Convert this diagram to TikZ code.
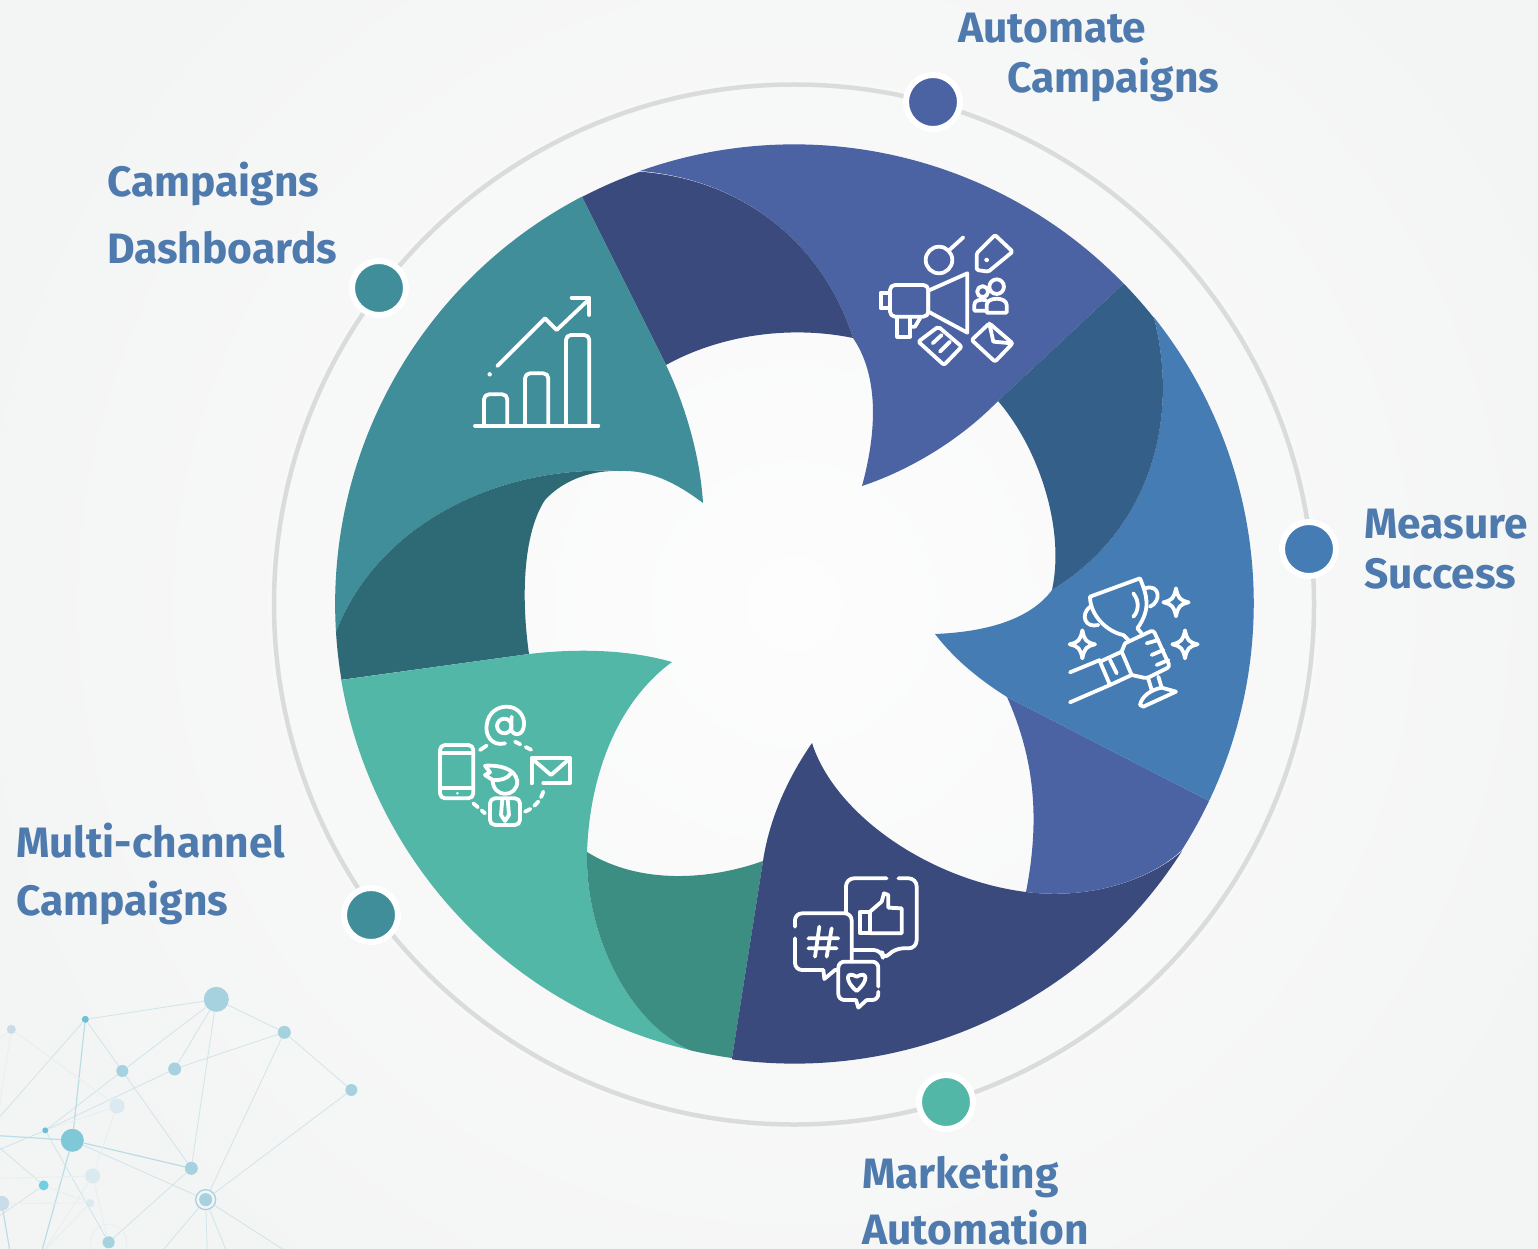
\documentclass[tikz,border=0pt]{standalone}
\usepackage{fontspec}
\setmainfont{Fira Sans}
\usetikzlibrary{calc}
\definecolor{cviolet}{HTML}{4B62A3}
\definecolor{cnavy}{HTML}{3A4A7C}
\definecolor{cblue}{HTML}{447CB3}
\definecolor{cdblue}{HTML}{335F89}
\definecolor{cteal}{HTML}{408E99}
\definecolor{cdteal}{HTML}{2E6A75}
\definecolor{cgreen}{HTML}{53B7A7}
\definecolor{cdgreen}{HTML}{3D8E82}
\definecolor{ctext}{HTML}{4E7AAD}
\definecolor{cring}{HTML}{DADBDB}
\definecolor{cbg}{HTML}{F3F4F4}
\definecolor{ccentre}{HTML}{FDFDFD}
\definecolor{cnetA}{HTML}{A5D2DE}
\definecolor{cnetB}{HTML}{6CC0D5}
\definecolor{cnetC}{HTML}{C9DBE6}
\definecolor{cnetD}{HTML}{DAEAF0}
\definecolor{cnetE}{HTML}{7FC8D7}
\definecolor{cnetF}{HTML}{70CFE0}
\definecolor{clineA}{HTML}{CFE5EB}
\definecolor{clineB}{HTML}{E6EFF2}
\definecolor{clineC}{HTML}{BBDDE6}
\tikzset{
  lab/.style={anchor=base west,inner sep=0pt,text=ctext,font=\fontsize{42.5}{42.5}\selectfont\bfseries},
  halo/.style={circle,fill=#1,draw=white,line width=6pt,minimum size=54pt,inner sep=0pt,outer sep=0pt},
  ico/.style={draw=white,line width=3.8pt,line join=round,line cap=round},
  netdot/.style={circle,inner sep=0pt,fill=#1},
  neta/.style={draw=clineA,line width=.8pt},
  netb/.style={draw=clineB,line width=.8pt},
  netc/.style={draw=clineC,line width=1.2pt},
}
\begin{document}
\begin{tikzpicture}[x=1pt,y=-1pt]
\useasboundingbox (0,0) rectangle (1538,1249);
\begin{scope}
\clip (0,0) rectangle (1538,1249);
\fill[cbg] (0,0) rectangle (1538,1249);
\shade[inner color=ccentre,outer color=cbg] (794,604) circle[radius=860];

% network
\begin{scope}[shift={(0,970)},x=.3333pt,y=-.3333pt]
\node[netdot=cnetA,minimum size=25pt] (na) at (649,88) {};
\node[netdot=cnetB,minimum size=7pt] (nb) at (256,148) {};
\node[netdot=cnetC,minimum size=9pt] (nc) at (34,178) {};
\node[netdot=cnetA,minimum size=13pt] (nd) at (853,187) {};
\node[netdot=cnetA,minimum size=12pt] (ne) at (367,303) {};
\node[netdot=cnetA,minimum size=13pt] (nf) at (524,297) {};
\node[netdot=cnetA,minimum size=12pt] (ng) at (1054,360) {};
\node[netdot=cnetD,minimum size=15pt] (nh) at (351,408) {};
\node[netdot=cnetB,minimum size=6pt] (ni) at (136,481) {};
\node[netdot=cnetE,minimum size=23pt] (nj) at (217,511) {};
\node[netdot=cnetA,minimum size=13pt] (nk) at (574,595) {};
\node[netdot=cnetD,minimum size=15pt] (nl) at (278,618) {};
\node[netdot=cnetF,minimum size=10pt] (nm) at (131,646) {};
\node[circle,inner sep=0pt,draw=cnetA,line width=1.3pt,minimum size=20pt] (nn) at (617,689) {};
\node[netdot=cnetA,minimum size=13pt] (nnc) at (617,689) {};
\node[netdot=cnetD,minimum size=8pt] (no) at (271,699) {};
\node[netdot=cnetC,minimum size=15pt] (np) at (5,700) {};
\node[circle,inner sep=0pt,draw=clineB,line width=.6pt,minimum size=36pt] (nqr) at (326,817) {};
\node[netdot=cnetA,minimum size=12pt] (nq) at (326,817) {};
\coordinate (o1) at (-5,445);
\coordinate (o2) at (-5,430);
\coordinate (o3) at (-5,210);
\coordinate (o4) at (-5,497);
\coordinate (o5) at (-5,540);
\coordinate (o6) at (-5,530);
\coordinate (o7) at (-5,740);
\coordinate (o8) at (-5,625);
\coordinate (o9) at (125,845);
\coordinate (o10) at (485,845);
\coordinate (o11) at (622,845);
\coordinate (o12) at (680,845);
\coordinate (o13) at (860,845);
\coordinate (o14) at (30,845);
\coordinate (o15) at (130,845);
\draw[neta] (na)--(nb) (na)--(ne) (na)--(nf) (na)--(nk) (na)--(nd);
\draw[neta] (nb)--(ne) (nb)--(o1) (nd)--(nf) (nd)--(nn) (nd)--(ng) (ng)--(nn);
\draw[neta] (ne)--(ni) (ne)--(nk) (nf)--(ni) (ni)--(nq) (ni)--(o5);
\draw[neta] (nj)--(nn) (nk)--(nq) (nn)--(o10) (nn)--(o11) (nn)--(o12) (nn)--(o13);
\draw[neta] (nm)--(o6) (nm)--(o7);
\draw[netc] (nb)--(nj) (nj)--(o4) (nj)--(nk) (np)--(o14) (nj)--(o9);
\draw[netb] (nc)--(nh) (nc)--(o2) (nc)--(o3) (nh)--(ni) (nh)--(nl) (nl)--(o8);
\draw[netb] (nl)--(o15) (nm)--(no) (np)--(no) (no)--(o15) (nl)--(nq);
\end{scope}

% ring
\draw[cring,line width=4.5pt] (794,604.5) circle[radius=520];

% petals
\fill[cviolet] (640,171) arc[start angle=-109.6,end angle=-44.2,radius=459.5] -- (998,401)
  .. controls (960,440) and (910,470) .. (862,486)
  .. controls (880,420) and (875,370) .. (853,338)
  .. controls (825,250) and (750,180) .. (640,171) -- cycle;
\fill[cnavy] (582,197) arc[start angle=-117.5,end angle=-109.6,radius=459.5]
  .. controls (750,180) and (825,250) .. (853,338)
  .. controls (790,325) and (720,335) .. (666,365) -- cycle;
\fill[cteal] (582,197) -- (666,365)
  .. controls (685,405) and (700,455) .. (703,503)
  .. controls (675,482) and (650,470) .. (620,471)
  .. controls (490,465) and (375,530) .. (336,632)
  arc[start angle=176.5,end angle=242.5,radius=459.5] -- cycle;
\fill[cdteal] (620,471) .. controls (490,465) and (375,530) .. (336,632)
  arc[start angle=176.5,end angle=170.5,radius=459.5] -- (529,654)
  .. controls (520,590) and (525,530) .. (545,500)
  .. controls (565,478) and (595,470) .. (620,471) -- cycle;
\fill[cgreen] (341,680) -- (529,654)
  .. controls (580,648) and (630,650) .. (672,662)
  .. controls (620,700) and (590,770) .. (587,852)
  .. controls (585,930) and (625,1020) .. (690,1050)
  arc[start angle=103.1,end angle=170.5,radius=459.5] -- cycle;
\fill[cdgreen] (587,852) .. controls (640,885) and (710,880) .. (763,861) -- (732,1058)
  arc[start angle=97.8,end angle=103.1,radius=459.5]
  .. controls (625,1020) and (585,930) .. (587,852) -- cycle;
\fill[cnavy] (732,1058) -- (763,861)
  .. controls (770,815) and (790,775) .. (812,743)
  .. controls (835,815) and (930,880) .. (1026,892)
  .. controls (1090,900) and (1150,880) .. (1182,851)
  arc[start angle=32.5,end angle=97.8,radius=459.5] -- cycle;
\fill[cviolet] (1007,697) -- (1209,801)
  arc[start angle=25.5,end angle=32.5,radius=459.5]
  .. controls (1150,880) and (1090,900) .. (1026,892)
  .. controls (1040,820) and (1035,760) .. (1007,697) -- cycle;
\fill[cblue] (1007,697) -- (1209,801)
  arc[start angle=25.5,end angle=-38.5,radius=459.5]
  .. controls (1180,420) and (1150,530) .. (1052,590)
  .. controls (1030,620) and (985,632) .. (935,634)
  .. controls (955,660) and (980,680) .. (1007,697) -- cycle;
\fill[cdblue] (1122,285) -- (998,401)
  .. controls (1040,450) and (1065,530) .. (1052,590)
  .. controls (1150,530) and (1180,420) .. (1154,318)
  arc[start angle=-38.5,end angle=-44.2,radius=459.5] -- cycle;

% marker dots
\node[halo=cviolet] (d1) at (933,102) {};
\node[halo=cblue] (d2) at (1309,549) {};
\node[halo=cgreen] (d3) at (946,1102) {};
\node[halo=cteal] (d4) at (371,915) {};
\node[halo=cteal] (d5) at (379,288) {};

% labels
\node[lab] (t1a) at (958,43) {Automate};
\node[lab] (t1b) at (1007,93) {Campaigns};
\node[lab] (t2a) at (1364,538) {Measure};
\node[lab] (t2b) at (1364,588) {Success};
\node[lab] (t3a) at (862,1188) {Marketing};
\node[lab] (t3b) at (862,1244) {Automation};
\node[lab] (t4a) at (16,857) {Multi-channel};
\node[lab] (t4b) at (16,915) {Campaigns};
\node[lab] (t5a) at (107,197) {Campaigns};
\node[lab] (t5b) at (107,263) {Dashboards};

% icon 1
\begin{scope}[shift={(860,220)},x=.3333pt,y=-.3333pt,ico]
\draw (237,120) circle[radius=13.3pt];
\draw (268,90)--(310,52);
\draw[rounded corners=1.5pt] (405,45)--(458,95)--(385,155)--(350,150)--(350,100)--cycle;
\draw[line width=2pt] (380,120) circle[radius=1.5pt];
\draw (205,212)--(322,160)--(322,338)--(205,275)--cycle;
\draw[rounded corners=5pt] (205,195)--(90,195)--(90,290)--(205,290)--cycle;
\draw (90,218)--(62,218)--(62,265)--(90,265);
\draw (112,290)--(112,350)--(150,350)--(150,295);
\draw (150,320)--(165,320)--(180,295);
\draw (410,200) circle[radius=7.3pt];
\draw (368,215) circle[radius=5.5pt];
\draw (380,278)--(440,278)--(440,255) .. controls (440,230) and (380,230) .. (380,255)--(380,278);
\draw (380,272)--(343,272)--(343,255) .. controls (343,240) and (360,238) .. (378,240);
\draw[rounded corners=2pt] (235,320)--(305,380)--(252,435)--(175,365)--cycle;
\draw (218,370)--(245,345) (240,395)--(270,365);
\draw[rounded corners=2pt] (388,310)--(458,370)--(405,425)--(335,360)--cycle;
\draw (388,310)--(400,365)--(455,370);
\end{scope}

% icon 2
\begin{scope}[shift={(1050,565)},x=.3333pt,y=-.3333pt,ico]
\draw (120,95)--(270,40) .. controls (290,90) and (305,130) .. (262,190);
\draw (120,95) .. controls (120,150) and (170,200) .. (220,210);
\draw (120,125) .. controls (90,150) and (105,190) .. (145,180);
\draw (285,70) .. controls (330,55) and (335,110) .. (300,125);
\draw (250,85) .. controls (270,110) and (265,140) .. (250,155);
\draw (220,210)--(235,225) (262,190)--(275,205);
\draw[rounded corners=3pt] (225,235)--(310,195)--(360,305)--(290,340)--(245,330);
\draw[rounded corners=3pt] (225,235)--(215,260);
\draw (290,235)--(325,225) (305,270)--(340,255) (320,300)--(355,285);
\draw (150,290)--(215,260)--(245,330)--(180,360)--cycle;
\draw (180,285)--(200,325);
\draw (60,322)--(150,285) (60,412)--(180,360);
\draw (295,342)--(305,375) (325,335)--(335,368);
\draw (270,420) .. controls (275,395) and (300,375) .. (335,368)--(378,380)--(280,425)--cycle;
\foreach \sx/\sy in {378/112,97/238,405/238}{
  \draw (\sx,\sy-42) .. controls (\sx+6,\sy-12) and (\sx+12,\sy-6) .. (\sx+38,\sy)
    .. controls (\sx+12,\sy+6) and (\sx+6,\sy+12) .. (\sx,\sy+42)
    .. controls (\sx-6,\sy+12) and (\sx-12,\sy+6) .. (\sx-38,\sy)
    .. controls (\sx-12,\sy-6) and (\sx-6,\sy-12) .. (\sx,\sy-42) -- cycle;
}
\end{scope}

% icon 3
\begin{scope}[shift={(780,865)},x=.3333pt,y=-.3333pt,ico]
\draw[rounded corners=8pt] (198,140)--(198,40)--(320,40);
\draw[rounded corners=8pt] (355,40)--(410,40)--(410,250)--(345,250)--(310,285)--(305,255)--(220,255);
\draw (240,140)--(270,140)--(270,205)--(240,205)--cycle;
\draw (270,140)--(305,110)--(312,85)--(325,90)--(325,128)--(365,130)--(365,205)--(270,205);
\draw[rounded corners=7pt] (45,185)--(45,145)--(215,145)--(215,290);
\draw[rounded corners=7pt] (45,220)--(45,315)--(130,315);
\draw (130,315)--(133,342)--(165,315)--(175,315);
\draw (118,185)--(105,275) (155,190)--(140,275) (85,220)--(175,220) (85,250)--(170,250);
\draw[rounded corners=6pt] (295,365)--(295,290)--(175,290)--(175,405)--(228,405);
\draw (228,405)--(235,428)--(260,405);
\draw[rounded corners=6pt] (260,405)--(295,405)--(295,380);
\draw (230,378) .. controls (195,350) and (195,315) .. (230,335) .. controls (265,315) and (265,350) .. (230,378) -- cycle;
\end{scope}

% icon 4
\begin{scope}[shift={(425,695)},x=.3333pt,y=-.3333pt,ico]
\draw (240,145) .. controls (200,155) and (180,120) .. (185,90) .. controls (190,50) and (220,35) .. (245,35) .. controls (280,35) and (300,65) .. (297,90) .. controls (295,125) and (262,125) .. (258,100);
\draw (238,93) circle[radius=7.3pt];
\draw (260,65)--(258,100);
\draw[rounded corners=5pt] (45,150)--(145,150)--(145,310)--(45,310)--cycle;
\draw (45,175)--(145,175) (45,280)--(145,280);
\fill[white] (97,295) circle[radius=1.5pt];
\draw[dash pattern=on 8pt off 5pt] (165,165)--(195,145);
\draw[dash pattern=on 6pt off 6pt] (270,140)--(330,170);
\draw[dash pattern=on 6pt off 5pt] (355,290) .. controls (345,320) and (325,340) .. (300,350);
\draw[dash pattern=on 6pt off 5pt] (145,325)--(180,355);
\draw (355,265)--(435,265)--(435,190)--(320,190)--(320,265);
\draw (320,190)--(378,240)--(435,190);
\draw (203,255) .. controls (203,310) and (277,310) .. (277,258);
\draw (180,212) .. controls (225,210) and (270,220) .. (277,258);
\draw (180,212)--(195,232)--(180,240)--(203,255) .. controls (225,258) and (250,250) .. (258,235);
\draw[rounded corners=5pt] (195,390)--(195,310)--(285,310)--(285,390)--cycle;
\draw (232,312)--(228,360)--(240,378)--(252,360)--(248,312);
\end{scope}

% icon 5
\begin{scope}[shift={(460,285)},x=.3333pt,y=-.3333pt,ico]
\draw (45,422)--(415,422);
\draw[rounded corners=5pt] (72,422)--(72,328)--(142,328)--(142,422);
\draw[rounded corners=5pt] (195,422)--(195,265)--(265,265)--(265,422);
\draw[rounded corners=5pt] (318,422)--(318,150)--(388,150)--(388,422);
\draw (112,243)--(255,100)--(290,135)--(385,45);
\draw (335,38)--(388,38)--(388,90);
\fill[white] (89,268) circle[radius=2.2pt];
\end{scope}
\end{scope}
\end{tikzpicture}
\end{document}
